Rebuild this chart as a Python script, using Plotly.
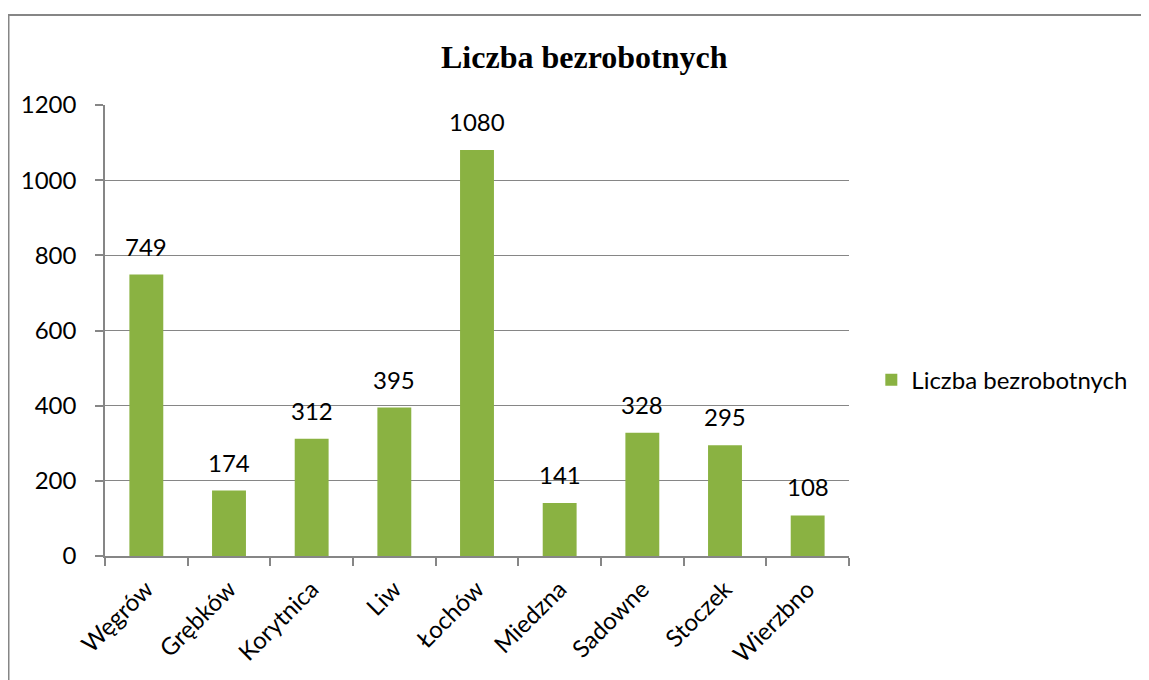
import plotly.graph_objects as go

categories = ["Węgrów", "Grębków", "Korytnica", "Liw", "Łochów", "Miedzna", "Sadowne", "Stoczek", "Wierzbno"]
values = [749, 174, 312, 395, 1080, 141, 328, 295, 108]
series_name = "Liczba bezrobotnych"
title_text = "Liczba bezrobotnych"
y_ticks = [0, 200, 400, 600, 800, 1000, 1200]

FONT = "Lato"
FS = 24
GRAY = "#868686"
BAR = "#8AB242"

fig = go.Figure()
fig.add_trace(go.Bar(
    x=categories, y=values, name=series_name,
    marker=dict(color=BAR, line=dict(width=0)),
    showlegend=True,
))

for c, v in zip(categories, values):
    fig.add_annotation(x=c, y=v, text=str(v), showarrow=False,
                       xref="x", yref="y", yanchor="bottom", yshift=12,
                       font=dict(family=FONT, size=FS, color="#000000"))

# outer chart border (left and top visible)
fig.add_shape(type="rect", xref="paper", yref="paper",
              x0=-0.1297, x1=1.7, y0=-0.6, y1=1.1996,
              line=dict(color=GRAY, width=2), fillcolor="rgba(0,0,0,0)", layer="below")

fig.add_annotation(text="<b>" + title_text + "</b>", xref="paper", yref="paper",
                   x=0.645, y=1.106, showarrow=False, xanchor="center", yanchor="middle",
                   font=dict(family="Liberation Serif", size=32, color="#000000"))

fig.update_layout(
    width=1141, height=672,
    margin=dict(l=97, r=300, t=97, b=124),
    paper_bgcolor="white", plot_bgcolor="white",
    bargap=0.59,
    font=dict(family=FONT, size=FS, color="#000000"),
    legend=dict(x=1.03, y=0.39, xanchor="left", yanchor="middle",
                font=dict(family=FONT, size=FS, color="#000000"),
                itemsizing="constant"),
    xaxis=dict(type="category", showline=True, linecolor=GRAY, linewidth=1.5,
               ticks="outside", tickson="boundaries", ticklen=8, tickcolor=GRAY, tickwidth=1.5,
               tickangle=-45, showgrid=False, ticklabelstandoff=8,
               tickfont=dict(family=FONT, size=FS, color="#000000")),
    yaxis=dict(range=[0, 1200], tickvals=y_ticks, showline=True, linecolor=GRAY, linewidth=1.5,
               ticks="outside", ticklen=8, tickcolor=GRAY, tickwidth=1.5,
               showgrid=True, gridcolor=GRAY, gridwidth=1.2, zeroline=False,
               ticklabelstandoff=14,
               tickfont=dict(family=FONT, size=FS, color="#000000")),
)

fig.write_html("out.html")
